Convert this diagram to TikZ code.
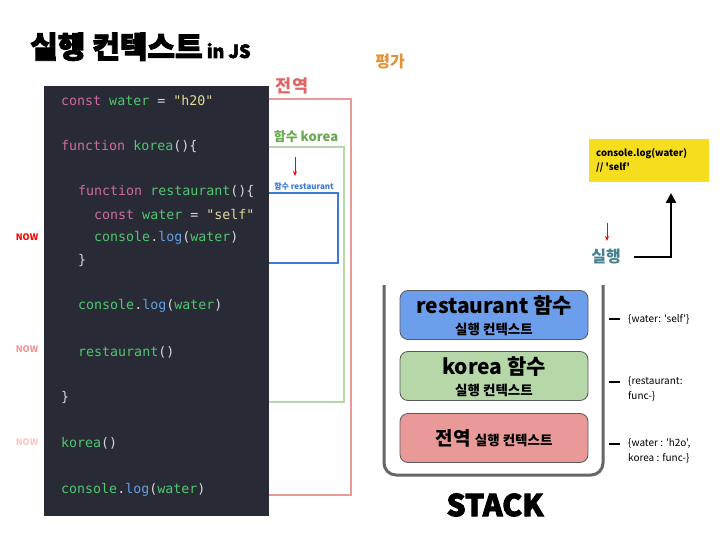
\documentclass[tikz,border=0pt]{standalone}
\usepackage{fontspec}
\usepackage{tikz}
\usetikzlibrary{arrows.meta}
\newfontfamily\kr{Noto Sans CJK KR}
\newfontfamily\krheavy{Noto Sans CJK KR}[BoldFeatures={FakeBold=3}]
\newfontfamily\code{DejaVu Sans Mono}

\definecolor{codebg}{RGB}{40,42,54}
\definecolor{codekw}{RGB}{207,108,160}
\definecolor{codeid}{RGB}{80,200,110}
\definecolor{codestr}{RGB}{228,218,150}
\definecolor{codefn}{RGB}{100,160,225}
\definecolor{codept}{RGB}{215,215,215}
\definecolor{globred}{RGB}{234,153,153}
\definecolor{globtext}{RGB}{224,102,102}
\definecolor{korgreen}{RGB}{182,215,168}
\definecolor{kortext}{RGB}{106,168,79}
\definecolor{restblue}{RGB}{60,120,216}
\definecolor{stackblue}{RGB}{109,158,235}
\definecolor{evalorange}{RGB}{230,145,56}
\definecolor{runteal}{RGB}{69,129,142}
\definecolor{logyellow}{RGB}{246,222,30}

\newcommand\ckw[1]{\textcolor{codekw}{#1}}
\newcommand\cid[1]{\textcolor{codeid}{#1}}
\newcommand\cstr[1]{\textcolor{codestr}{#1}}
\newcommand\cfn[1]{\textcolor{codefn}{#1}}
\newcommand\cpt[1]{\textcolor{codept}{#1}}

\tikzset{
  codeline/.style = {anchor=west, inner sep=0pt, font=\code\fontsize{13.3}{15}\selectfont},
  nowmark/.style = {inner sep=0pt, font=\kr\bfseries\fontsize{9}{10}\selectfont},
  ctxbox/.style = {rectangle, rounded corners=8pt, draw=black!65, line width=0.8pt,
                   minimum width=188pt, minimum height=49pt},
  vartext/.style = {anchor=west, align=left, inner sep=0pt,
                    font=\kr\fontsize{10}{14.5}\selectfont},
}

\begin{document}
\begin{tikzpicture}[x=1pt, y=-1pt]
  \useasboundingbox (0,0) rectangle (720,540);

  % title
  \node[anchor=base west, inner sep=0pt] (title) at (30,58)
    {\krheavy\bfseries\fontsize{30}{32}\selectfont 실행 컨텍스트\fontsize{18}{20}\selectfont\ in JS};

  % scope boxes (behind the code)
  \draw[globred, line width=2pt] (240,99) rectangle (351,495);
  \draw[korgreen, line width=2pt] (240,147) rectangle (344,402);
  \draw[restblue, line width=2pt] (240,193) rectangle (338,263);

  \node[globtext, font=\kr\bfseries\fontsize{17.5}{18}\selectfont] (global) at (292,86) {전역};
  \node[kortext, font=\kr\bfseries\fontsize{13}{14}\selectfont] (korlabel) at (306,137) {함수 korea};
  \node[restblue, font=\kr\bfseries\fontsize{8}{9}\selectfont] (restlabel) at (304,186) {함수 restaurant};
  \coordinate (restarrowtop) at (295,157);
  \coordinate (restarrowend) at (295,176);
  \draw[red, line width=1pt, -{Stealth[length=5pt,width=4pt]}] (restarrowtop) -- (restarrowend);

  % code panel
  \node[rectangle,
        fill = codebg,
        anchor = north west,
        minimum width = 225pt,
        minimum height = 430pt] (panel) at (44,86) {};

  \node[codeline] (gconst) at (61,101) {\ckw{const} \cid{water} \cpt{=} \cstr{"h20"}};
  \node[codeline] (fkorea) at (61,147) {\ckw{function} \cid{korea}\cpt{()\{}};
  \node[codeline] (frest) at (78,192) {\ckw{function} \cid{restaurant}\cpt{()\{}};
  \node[codeline] (rconst) at (94,215) {\ckw{const} \cid{water} \cpt{=} \cstr{"self"}};
  \node[codeline] (rlog) at (94,238) {\cid{console}\cpt{.}\cfn{log}\cpt{(}\cid{water}\cpt{)}};
  \node[codeline] (rclose) at (78,261) {\cpt{\}}};
  \node[codeline] (klog) at (78,306) {\cid{console}\cpt{.}\cfn{log}\cpt{(}\cid{water}\cpt{)}};
  \node[codeline] (kcall) at (78,352) {\cid{restaurant}\cpt{()}};
  \node[codeline] (kclose) at (61,398) {\cpt{\}}};
  \node[codeline] (gcall) at (61,443) {\cid{korea}\cpt{()}};
  \node[codeline] (glog) at (61,490) {\cid{console}\cpt{.}\cfn{log}\cpt{(}\cid{water}\cpt{)}};

  \node[nowmark, text=red] (nowA) at (27,237) {NOW};
  \node[nowmark, text={rgb,255:red,240;green,150;blue,150}] (nowB) at (27,349) {NOW};
  \node[nowmark, text={rgb,255:red,250;green,200;blue,200}] (nowC) at (27,442) {NOW};

  % evaluation / execution
  \node[evalorange, font=\kr\bfseries\itshape\fontsize{16}{17}\selectfont] (eval) at (390,62) {평가};

  \node[rectangle,
        fill = logyellow,
        anchor = north west,
        minimum width = 120pt,
        minimum height = 43pt] (logbox) at (589,139) {};
  \node[anchor=west, align=left, inner sep=0pt, font=\kr\bfseries\fontsize{9.5}{14}\selectfont]
    (logtext) at (596,160) {console.log(water)\\// 'self'};

  \node[runteal, font=\kr\bfseries\fontsize{16}{17}\selectfont] (run) at (606,257) {실행};
  \coordinate (runarrowtop) at (607,223);
  \coordinate (runarrowend) at (607,241);
  \draw[red, line width=1pt, -{Stealth[length=5pt,width=4pt]}] (runarrowtop) -- (runarrowend);
  \coordinate (runout) at (634,257);
  \coordinate (login) at (671,193);
  \draw[line width=2.5pt, -{Triangle[length=10pt,width=10pt]}] (runout) -| (login);

  % stack
  \draw[black!60, line width=3pt, rounded corners=12pt] (384,285) |- (603,475) -- (603,285);

  \node[ctxbox, fill=stackblue] (restctx) at (494,315) {};
  \node[font=\kr\bfseries\fontsize{21}{22}\selectfont] at (494,306) {restaurant 함수};
  \node[font=\kr\bfseries\fontsize{13.5}{14}\selectfont] at (494,329) {실행 컨텍스트};

  \node[ctxbox, fill=korgreen] (korctx) at (494,376) {};
  \node[font=\kr\bfseries\fontsize{21}{22}\selectfont] at (494,367) {korea 함수};
  \node[font=\kr\bfseries\fontsize{13.5}{14}\selectfont] at (494,390) {실행 컨텍스트};

  \node[ctxbox, fill=globred] (globctx) at (494,438) {};
  \node[font=\kr\bfseries] at (494,438)
    {\fontsize{19}{20}\selectfont 전역 \fontsize{13.5}{14}\selectfont 실행 컨텍스트};

  \coordinate (restdash) at (609,319);
  \coordinate (kordash) at (609,382);
  \coordinate (globdash) at (609,444);
  \draw[line width=1.5pt] (restdash) -- ++(11,0);
  \draw[line width=1.5pt] (kordash) -- ++(11,0);
  \draw[line width=1.5pt] (globdash) -- ++(11,0);

  \node[vartext] (restvars) at (628,319) {\{water: 'self'\}};
  \node[vartext] (korvars) at (628,389) {\{restaurant:\\func-\}};
  \node[vartext] (globvars) at (628,451) {\{water : 'h2o',\\korea : func-\}};

  \node[font=\krheavy\bfseries\fontsize{30}{32}\selectfont] (stack) at (495,505) {STACK};
\end{tikzpicture}
\end{document}
